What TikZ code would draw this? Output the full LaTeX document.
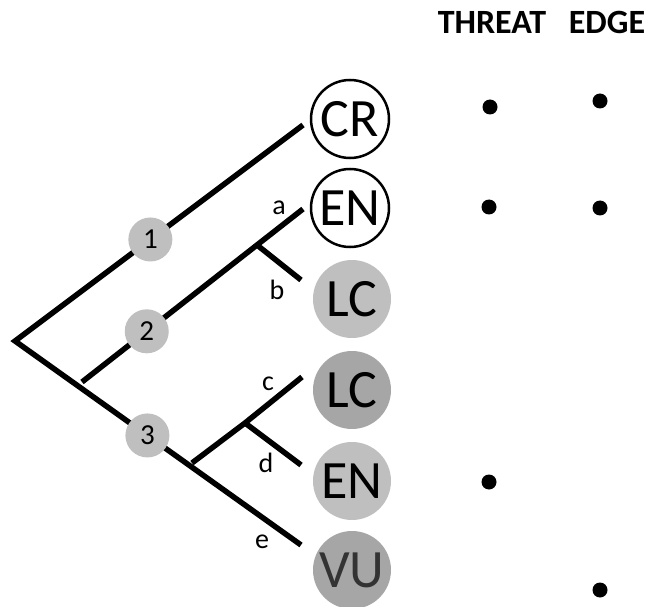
\documentclass[tikz,border=0pt]{standalone}
\usepackage{fontspec}
\setmainfont{Carlito}
\begin{document}
\begin{tikzpicture}[x=1pt,y=-1pt,
  branch/.style={line width=5.5pt, line cap=butt, line join=miter},
  status/.style={circle, minimum size=78pt, inner sep=0pt, font=\fontsize{54}{54}\selectfont},
  openst/.style={status, draw=black, line width=2.5pt, fill=white},
  lightst/.style={status, fill=black!25, draw=none},
  darkst/.style={status, fill=black!35, draw=none},
  num/.style={circle, minimum size=44pt, inner sep=0pt, fill=black!25, font=\fontsize{29}{29}\selectfont},
  lbl/.style={font=\fontsize{28}{28}\selectfont, inner sep=0pt},
  head/.style={font=\fontsize{34}{34}\selectfont\bfseries, inner sep=0pt},
  dot/.style={circle, fill=black, minimum size=15pt, inner sep=0pt}]
\useasboundingbox (0,0) rectangle (646,607);
% tips
\node[openst]  (cr) at (350,119) {CR};
\node[openst]  (en1) at (350,208) {EN};
\node[lightst] (lc1) at (352,299) {LC};
\node[darkst]  (lc2) at (352,390) {LC};
\node[lightst] (en2) at (352,481) {EN};
\node[darkst, text=black!80]  (vu) at (352,570) {VU};
% tree coordinates
\coordinate (root) at (15,341);
\coordinate (crend) at (303,125);
\coordinate (s2) at (82,382);
\coordinate (sa) at (257,245);
\coordinate (aend) at (303,209);
\coordinate (bend) at (301,280);
\coordinate (s3) at (192,463);
\coordinate (scd) at (245,423);
\coordinate (cend) at (302,377);
\coordinate (dend) at (301,465);
\coordinate (eend) at (301,545);
% branches
\draw[branch] (crend) -- (root) -- (eend);
\draw[branch] (s2) -- (sa) -- (aend);
\draw[branch] (sa) -- (bend);
\draw[branch] (s3) -- (scd) -- (cend);
\draw[branch] (scd) -- (dend);
% numbered nodes
\path (root) -- (crend) node[num, pos=0.47] (n1) {1};
\path (s2) -- (sa) node[num, pos=0.37] (n2) {2};
\path (root) -- (eend) node[num, pos=0.463] (n3) {3};
% branch labels
\node[lbl] (la) at (279,208) {a};
\node[lbl] (lb) at (277,290) {b};
\node[lbl] (lc) at (268,384) {c};
\node[lbl] (ld) at (266,463) {d};
\node[lbl] (le) at (262,542) {e};
% headers
\node[head] (threat) at (492,22) {THREAT};
\node[head] (edge) at (607,22) {EDGE};
% dots
\node[dot] (t1) at (490,107) {};
\node[dot] (e1) at (600,101) {};
\node[dot] (t2) at (489,207) {};
\node[dot] (e2) at (600,208) {};
\node[dot] (t3) at (489,482) {};
\node[dot] (e3) at (600,590) {};
\end{tikzpicture}
\end{document}
